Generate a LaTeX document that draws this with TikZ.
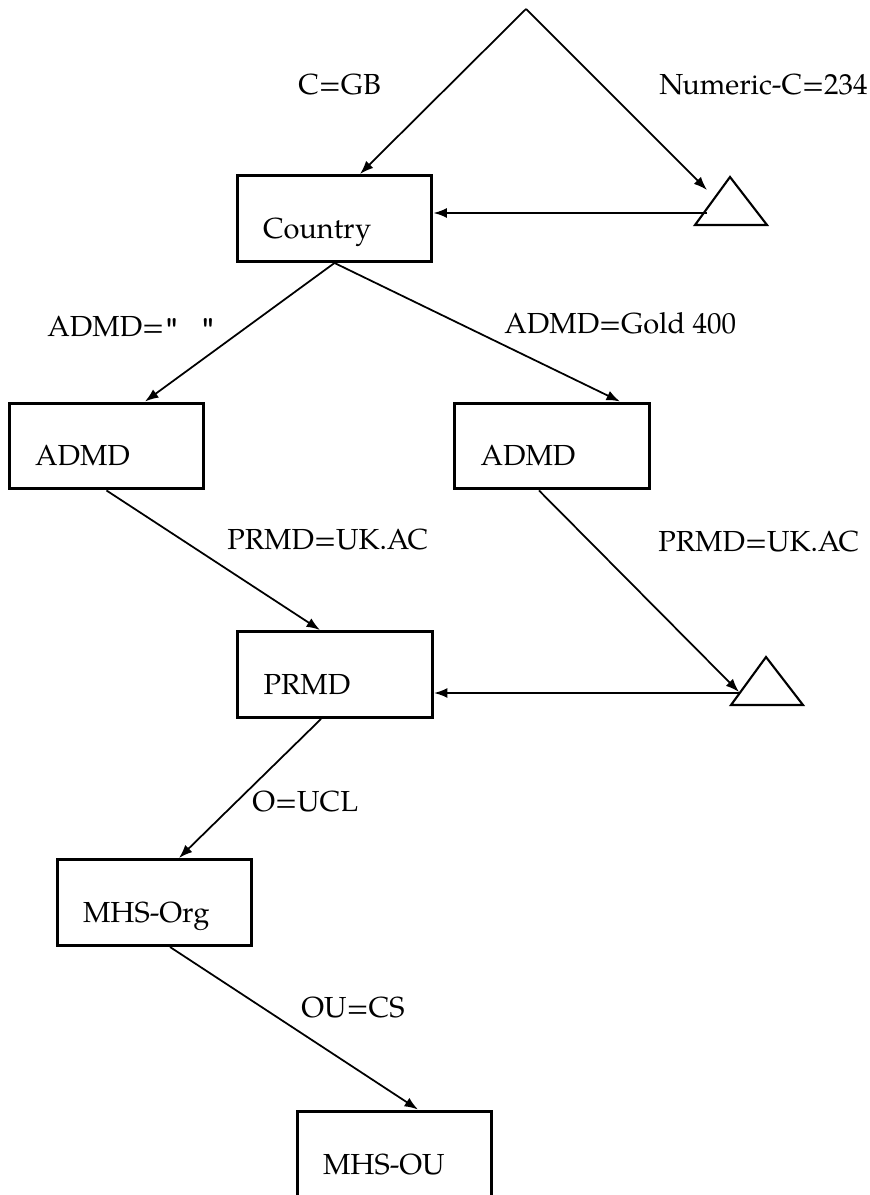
\documentclass[tikz,border=0pt]{standalone}
\usepackage{fontspec}
\setmainfont{texgyrepagella}[Extension=.otf, UprightFont=*-regular]
\usetikzlibrary{arrows.meta}
\tikzset{
  entity/.style={draw, line width=1.7pt, minimum width=3.9cm, minimum height=1.72cm,
    inner xsep=0.52cm, text width=2.86cm, align=left, text height=1cm, text depth=0.2cm},
  link/.style={line width=1pt, -{Latex[length=0.27cm,width=0.2cm]}},
  tag/.style={anchor=west, inner sep=0pt},
  hole/.style={line width=1.2pt, line join=miter}
}
\begin{document}
\begin{tikzpicture}[x=0.02cm, y=-0.02cm, every node/.style={font=\fontsize{16.5}{20}\selectfont}]
  \useasboundingbox (0,0) rectangle (869,1195);
  % Boites
  \node[entity] (country) at (334.5,218.5) {Country};
  \node[entity] (admdl) at (106.5,446) {ADMD};
  \node[entity] (admdr) at (552,446) {ADMD};
  \node[entity] (prmd) at (335,674.5) {PRMD};
  \node[entity] (org) at (154.5,902.5) {MHS-Org};
  \node[entity] (ou) at (394.5,1154) {MHS-OU};

  % Racine et triangles
  \coordinate (root) at (526,9);
  \coordinate (t1a) at (730,177);
  \coordinate (t1l) at (695,225);
  \coordinate (t1r) at (767,225);
  \coordinate (t1in) at (707,190);
  \coordinate (t1w) at (707,213);
  \draw[hole] (t1l) -- (t1a) -- (t1r) -- cycle;
  \coordinate (t2a) at (766,657);
  \coordinate (t2l) at (731,705);
  \coordinate (t2r) at (803,705);
  \coordinate (t2in) at (739,692);
  \coordinate (t2w) at (739,693);
  \draw[hole] (t2l) -- (t2a) -- (t2r) -- cycle;

  % Liens
  \draw[link] (root) -- ([xshift=0.51cm]country.north);
  \draw[link] (root) -- (t1in);
  \draw[link] (t1w) -- (t1w -| country.east);
  \draw[link] (country.south) -- ([xshift=0.77cm]admdl.north);
  \draw[link] (country.south) -- ([xshift=1.36cm]admdr.north);
  \draw[link] (admdl.south) -- ([xshift=-0.3cm]prmd.north);
  \draw[link] ([xshift=-0.26cm]admdr.south) -- (t2in);
  \draw[link] (t2w) -- (t2w -| prmd.east);
  \draw[link] ([xshift=-0.28cm]prmd.south) -- ([xshift=0.49cm]org.north);
  \draw[link] ([xshift=0.31cm]org.south) -- ([xshift=0.47cm]ou.north);

  % Etiquettes
  \node[tag] (lgb) at (298,85) {C=GB};
  \node[tag] (lnum) at (659,85) {Numeric-C=234};
  \node[tag] (lblank) at (47,327) {ADMD=\texttt{\textbf{"}}\hspace{0.42cm}\texttt{\textbf{"}}};
  \node[tag] (lgold) at (504,323) {ADMD=Gold 400};
  \node[tag] (lprmdl) at (227,540) {PRMD=UK.AC};
  \node[tag] (lprmdr) at (658,542) {PRMD=UK.AC};
  \node[tag] (lucl) at (252,802) {O=UCL};
  \node[tag] (lcs) at (301,1008) {OU=CS};
\end{tikzpicture}
\end{document}
